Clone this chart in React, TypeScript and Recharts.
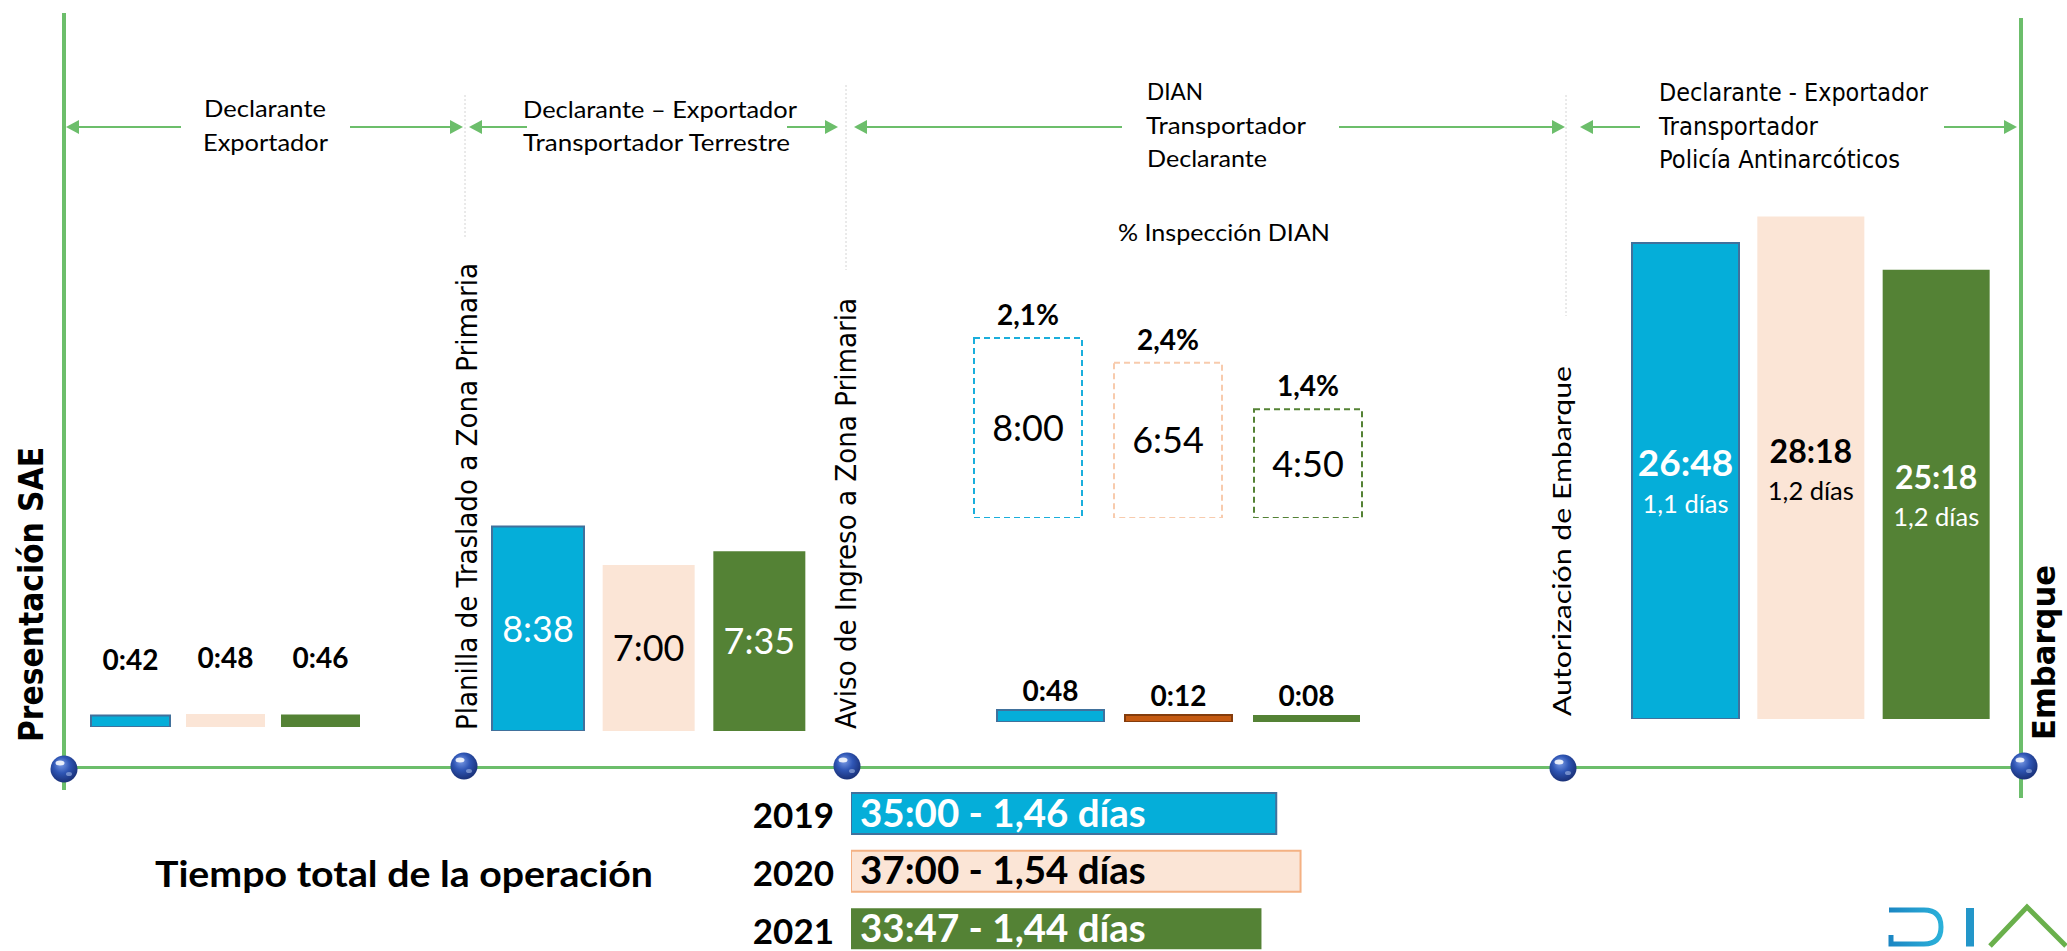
import React from 'react';
import { BarChart, Bar, XAxis, YAxis, Cell, LabelList } from 'recharts';

const W = 2067;
const H = 951;

// ---------------- data ----------------
const years = ['2019', '2020', '2021'];
const presentacionMin = [42, 48, 46];
const planillaMin = [518, 420, 455];
const inspeccionMin = [480, 414, 290];
const inspeccionPct = [2.1, 2.4, 1.4];
const avisoMin = [48, 12, 8];
const autorizacionMin = [1608, 1698, 1518];
const autorizacionDias = [1.1, 1.2, 1.2];
const totalMin = [2100, 2220, 2027];
const totalDias = [1.46, 1.54, 1.44];

const hm = (m: number) => `${Math.floor(m / 60)}:${String(m % 60).padStart(2, '0')}`;
const dec = (v: number, d: number) => v.toFixed(d).replace('.', ',');
const rows = (vals: number[], sub?: string[]) =>
  years.map((year, i) => ({ year, value: vals[i], label: hm(vals[i]), sub: sub ? sub[i] : '' }));

const presentacionRows = rows(presentacionMin);
const planillaRows = rows(planillaMin);
const inspeccionRows = rows(inspeccionMin, inspeccionPct.map((v) => `${dec(v, 1)}%`));
const avisoRows = rows(avisoMin);
const autorizacionRows = rows(autorizacionMin, autorizacionDias.map((v) => `${dec(v, 1)} días`));
const totalRows = years.map((year, i) => ({
  year,
  value: totalMin[i],
  label: `${hm(totalMin[i])} - ${dec(totalDias[i], 2)} días`,
}));

// ---------------- styles ----------------
const BLUE = '#05AED9';
const BLUE_EDGE = '#41719C';
const PEACH = '#FBE5D6';
const PEACH_EDGE = '#F4B183';
const GREEN = '#548235';
const BROWN = '#C55A11';
const BROWN_EDGE = '#843C0C';
const LINE_GREEN = '#6CBE6B';
const CAL = "Lato, 'Open Sans', sans-serif";
const GOTH = "'DejaVu Sans', Verdana, sans-serif";
const COND = "'DejaVu Sans Condensed', 'DejaVu Sans', sans-serif";
const inkOnFill = ['#fff', '#000', '#fff'];

const vb = (p: any) => {
  const b = p.viewBox || p;
  return { x: +b.x, y: +b.y, w: +b.width, h: +b.height };
};

const labelAbove = (gap: number, size: number) => (p: any) => {
  const { x, y, w } = vb(p);
  return (
    <text x={x + w / 2} y={y - gap} textAnchor="middle" fontFamily={CAL} fontWeight={700} fontSize={size} fill="#000">
      {p.value}
    </text>
  );
};

const labelCenter = (size: number, inks: string[], dy = 0, weight = 400) => (p: any) => {
  const { x, y, w, h } = vb(p);
  const i = p.index ?? 0;
  return (
    <text x={x + w / 2} y={y + h / 2 + size * 0.36 + dy} textAnchor="middle" fontFamily={CAL} fontWeight={weight} fontSize={size} fill={inks[i]}>
      {p.value}
    </text>
  );
};

const bigSizes = [37, 32, 32];
const labelBig = (p: any) => {
  const { x, y, w, h } = vb(p);
  const i = p.index ?? 0;
  return (
    <text x={x + w / 2} y={y + h / 2 - 5} textAnchor="middle" fontFamily={CAL} fontWeight={700} fontSize={bigSizes[i]} fill={inkOnFill[i]}>
      {p.value}
    </text>
  );
};
const labelDias = (p: any) => {
  const { x, y, w, h } = vb(p);
  const i = p.index ?? 0;
  return (
    <text x={x + w / 2} y={y + h / 2 + 32} textAnchor="middle" fontFamily={CAL} fontWeight={400} fontSize={25.5} fill={inkOnFill[i]}>
      {p.value}
    </text>
  );
};

const labelTotal = (p: any) => {
  const { x, y, h } = vb(p);
  const i = p.index ?? 0;
  return (
    <text x={x + 9} y={y + h / 2 + 13} textAnchor="start" fontFamily={CAL} fontWeight={700} fontSize={38.5} fill={inkOnFill[i]}>
      {p.value}
    </text>
  );
};

const YearTick = (p: any) => (
  <text x={p.x} y={p.y + 14.5} textAnchor="end" fontFamily={CAL} fontWeight={700} fontSize={35} fill="#000">
    {p.payload?.value}
  </text>
);

// ---------------- column group chart ----------------
function Columns(props: {
  left: number;
  width: number;
  base: number;
  pxPerMin: number;
  barSize: number;
  data: any[];
  cells: React.ReactNode[];
  minPointSize?: number;
  children?: React.ReactNode;
}) {
  const { left, width, base, pxPerMin, barSize, data, cells, minPointSize, children } = props;
  return (
    <div style={{ position: 'absolute', left, top: 0 }}>
      <BarChart width={width} height={H} data={data} margin={{ top: 0, right: 0, bottom: H - base, left: 0 }}>
        <XAxis dataKey="year" type="category" hide />
        <YAxis type="number" hide domain={[0, base / pxPerMin]} allowDataOverflow />
        <Bar dataKey="value" barSize={barSize} isAnimationActive={false} minPointSize={minPointSize ?? 0}>
          {cells}
          {children}
        </Bar>
      </BarChart>
    </div>
  );
}

const solidCells = (fills: string[], edges: string[]) =>
  fills.map((f, i) => (
    <Cell key={i} fill={f} stroke={edges[i]} strokeWidth={edges[i] === 'none' ? 0 : 2} />
  ));

// ---------------- decorations ----------------
function T(props: { x: number; y: number; w: number; size: number; family?: string; weight?: number; children: string }) {
  const { x, y, w, size, family = CAL, weight = 400, children } = props;
  return (
    <text x={x} y={y} fontSize={size} fontFamily={family} fontWeight={weight} fill="#000" textLength={w} lengthAdjust="spacingAndGlyphs">
      {children}
    </text>
  );
}
function VT(props: { x: number; y: number; len: number; size: number; family?: string; weight?: number; children: string }) {
  const { x, y, len, size, family = GOTH, weight = 400, children } = props;
  return (
    <text transform={`translate(${x},${y}) rotate(-90)`} x={0} y={0} fontSize={size} fontFamily={family} fontWeight={weight} fill="#000" textLength={len} lengthAdjust="spacingAndGlyphs">
      {children}
    </text>
  );
}

function Arrow({ tip, end, y }: { tip: number; end: number; y: number }) {
  const dir = tip > end ? 1 : -1;
  return (
    <g>
      <line x1={end} x2={tip - dir * 10} y1={y} y2={y} stroke={LINE_GREEN} strokeWidth={2} />
      <polygon points={`${tip},${y} ${tip - dir * 13},${y - 7} ${tip - dir * 13},${y + 7}`} fill={LINE_GREEN} />
    </g>
  );
}

function Sphere({ cx, cy }: { cx: number; cy: number }) {
  return (
    <g>
      <circle cx={cx} cy={cy} r={13.5} fill="url(#sph)" />
      <ellipse cx={cx - 4} cy={cy - 6} rx={4.5} ry={2.5} fill="#fff" opacity={0.85} />
      <ellipse cx={cx + 5} cy={cy + 5} rx={3} ry={2} fill="#cfe0ff" opacity={0.45} />
    </g>
  );
}

function Background() {
  const arrows = [
    [66, 181], [463, 350], [469, 527], [838, 787],
    [854, 1122], [1565, 1339], [1580, 1640], [2017, 1944],
  ];
  const seps = [
    [465, 95, 238], [846, 85, 270], [1566, 95, 316],
  ];
  const spheres = [[64, 769], [464, 766], [847, 766], [1563, 768], [2024, 766]];
  return (
    <svg width={W} height={H} style={{ position: 'absolute', left: 0, top: 0 }}>
      <defs>
        <radialGradient id="sph" cx="45%" cy="40%" r="60%" fx="38%" fy="30%">
          <stop offset="0%" stopColor="#7d9ee8" />
          <stop offset="50%" stopColor="#2f56b5" />
          <stop offset="100%" stopColor="#1a3178" />
        </radialGradient>
        <linearGradient id="logoBlue" x1="0" x2="1" y1="0" y2="0">
          <stop offset="0%" stopColor="#1b86c3" />
          <stop offset="100%" stopColor="#2bb0d9" />
        </linearGradient>
      </defs>

      <line x1={64} x2={64} y1={13} y2={790} stroke={LINE_GREEN} strokeWidth={4} />
      <line x1={2021} x2={2021} y1={18} y2={798} stroke={LINE_GREEN} strokeWidth={4} />
      <line x1={64} x2={2021} y1={767.5} y2={767.5} stroke={LINE_GREEN} strokeWidth={3} />

      {seps.map(([x, y1, y2], i) => (
        <line key={i} x1={x} x2={x} y1={y1} y2={y2} stroke="#d4d4d4" strokeWidth={1} strokeDasharray="2 2" />
      ))}
      {arrows.map(([tip, end], i) => (
        <Arrow key={i} tip={tip} end={end} y={127} />
      ))}
      {spheres.map(([cx, cy], i) => (
        <Sphere key={i} cx={cx} cy={cy} />
      ))}

      <T x={204} y={117} w={122} size={23.5}>Declarante</T>
      <T x={203} y={151} w={125} size={23.5}>Exportador</T>
      <T x={523} y={118} w={274} size={23.5}>Declarante – Exportador</T>
      <T x={523} y={151} w={267} size={23.5}>Transportador Terrestre</T>
      <T x={1147} y={100} w={56} size={23.5}>DIAN</T>
      <T x={1146} y={134} w={160} size={23.5}>Transportador</T>
      <T x={1147} y={167} w={120} size={23.5}>Declarante</T>
      <T x={1118} y={241} w={212} size={23.5}>% Inspección DIAN</T>
      <T x={1659} y={101} w={269} size={24} family={GOTH}>Declarante - Exportador</T>
      <T x={1659} y={135} w={159} size={24} family={GOTH}>Transportador</T>
      <T x={1659} y={168} w={241} size={24} family={GOTH}>Policía Antinarcóticos</T>

      <VT x={43} y={742} len={295} size={33} family={COND} weight={700}>Presentación SAE</VT>
      <VT x={477} y={730} len={467} size={29}>Planilla de Traslado a Zona Primaria</VT>
      <VT x={856} y={729} len={431} size={29}>Aviso de Ingreso a Zona Primaria</VT>
      <VT x={1571} y={716} len={350} size={25} family={CAL}>Autorización de Embarque</VT>
      <VT x={2055} y={740} len={175} size={32} family={COND} weight={700}>Embarque</VT>

      <T x={155} y={887} w={498} size={37} weight={700}>Tiempo total de la operación</T>

      <path d="M1889,910 H1924 Q1941,910 1941,927 Q1941,944 1924,944 H1891 V935" stroke="url(#logoBlue)" strokeWidth={5} fill="none" />
      <rect x={1966} y={908} width={8} height={38.5} fill="#2396c9" />
      <path d="M1990,946 L2027,907 L2066,946" stroke="#6ab04c" strokeWidth={5} fill="none" />
    </svg>
  );
}

// ---------------- app ----------------
export default function App() {
  return (
    <div style={{ position: 'relative', width: W, height: H, overflow: 'hidden', background: '#fff' }}>
      <style>{`html,body{margin:0;padding:0;overflow:hidden;background:#fff}`}</style>
      <Background />

      {/* Presentación SAE -> Planilla */}
      <Columns left={83} width={285} base={727} pxPerMin={0.273} barSize={79} data={presentacionRows}
        cells={solidCells([BLUE, PEACH, GREEN], [BLUE_EDGE, 'none', 'none'])}>
        <LabelList dataKey="label" content={labelAbove(46, 28)} />
      </Columns>

      {/* Planilla -> Aviso */}
      <Columns left={483} width={332} base={731} pxPerMin={0.395} barSize={92} data={planillaRows}
        cells={solidCells([BLUE, PEACH, GREEN], [BLUE_EDGE, 'none', 'none'])}>
        <LabelList dataKey="label" content={labelCenter(36, inkOnFill)} />
      </Columns>

      {/* Inspección DIAN (dashed) */}
      <Columns left={958} width={420} base={518} pxPerMin={0.375} barSize={108} data={inspeccionRows}
        cells={['#1AAEDC', '#F8CBAD', GREEN].map((c, i) => (
          <Cell key={i} fill="#fff" stroke={c} strokeWidth={2} strokeDasharray="6 4" />
        ))}>
        <LabelList dataKey="label" content={labelCenter(36, ['#000', '#000', '#000'])} />
        <LabelList dataKey="sub" content={labelAbove(13, 28)} />
      </Columns>

      {/* Aviso -> Autorización (sin inspección) */}
      <Columns left={986} width={384} base={722} pxPerMin={0.25} barSize={107} minPointSize={7} data={avisoRows}
        cells={solidCells([BLUE, BROWN, GREEN], [BLUE_EDGE, BROWN_EDGE, 'none'])}>
        <LabelList dataKey="label" content={labelAbove(9, 28)} />
      </Columns>

      {/* Autorización -> Embarque */}
      <Columns left={1623} width={376} base={719} pxPerMin={0.296} barSize={107} data={autorizacionRows}
        cells={solidCells([BLUE, PEACH, GREEN], [BLUE_EDGE, 'none', 'none'])}>
        <LabelList dataKey="label" content={labelBig} />
        <LabelList dataKey="sub" content={labelDias} />
      </Columns>

      {/* Tiempo total */}
      <div style={{ position: 'absolute', left: 700, top: 785 }}>
        <BarChart layout="vertical" width={637} height={173} data={totalRows} margin={{ top: 0, right: 0, bottom: 0, left: 0 }}>
          <XAxis type="number" hide domain={[0, 2400]} allowDataOverflow />
          <YAxis type="category" dataKey="year" width={151} axisLine={false} tickLine={false} tickSize={0} tickMargin={17} tick={<YearTick />} interval={0} />
          <Bar dataKey="value" barSize={41} isAnimationActive={false}>
            {solidCells([BLUE, PEACH, GREEN], [BLUE_EDGE, PEACH_EDGE, 'none'])}
            <LabelList dataKey="label" content={labelTotal} />
          </Bar>
        </BarChart>
      </div>
    </div>
  );
}
